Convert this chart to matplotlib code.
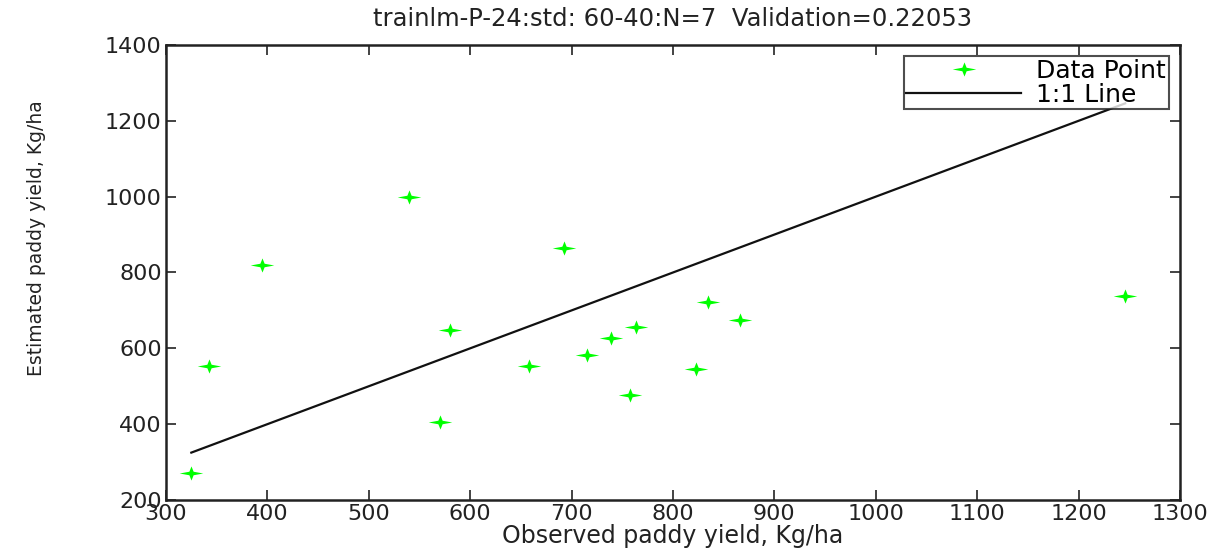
import matplotlib.pyplot as plt
import numpy as np
from matplotlib.path import Path

observed = [325, 342, 395, 540, 570, 580, 658, 693, 715, 739, 758, 764, 823, 835, 866, 1246]
estimated = [270, 553, 820, 1000, 406, 648, 553, 865, 583, 627, 477, 656, 545, 722, 675, 738]
x_ticks = [300, 400, 500, 600, 700, 800, 900, 1000, 1100, 1200, 1300]
y_ticks = [200, 400, 600, 800, 1000, 1200, 1400]

# wide four-point star, like the stretched matlab '*'
verts = [(1, 0), (0.18, 0.15), (0, 0.6), (-0.18, 0.15), (-1, 0),
         (-0.18, -0.15), (0, -0.6), (0.18, -0.15), (1, 0)]
codes = [Path.MOVETO] + [Path.LINETO] * 7 + [Path.CLOSEPOLY]
star = Path(verts, codes)

plt.rcParams['font.family'] = ['DejaVu Sans']

fig = plt.figure(figsize=(12.24, 5.5), dpi=100)
ax = fig.add_axes([0.1356, 0.0909, 0.8284, 0.8273])

ax.plot(observed, estimated, linestyle='none', marker=star, markersize=17,
        color='#00ff00', markeredgewidth=0, label='Data Point')
lo, hi = min(observed), max(observed)
ax.plot([lo, hi], [lo, hi], color='#111111', linewidth=1.6, label='1:1 Line')

ax.set_xlim(300, 1300)
ax.set_ylim(200, 1400)
ax.set_xticks(x_ticks)
ax.set_yticks(y_ticks)
ax.tick_params(direction='in', length=7, width=1.2, top=True, right=True,
               labelsize=16, pad=3, colors='#222222')
for s in ax.spines.values():
    s.set_linewidth(1.8)
    s.set_color('#222222')

ax.set_xlabel('Observed paddy yield, Kg/ha', fontsize=17, labelpad=0, color='#222222')
ax.set_ylabel('Estimated paddy yield, Kg/ha', fontsize=13.5, color='#222222')
ax.yaxis.set_label_coords(-0.118, 0.575)
ax.set_title('trainlm-P-24:std: 60-40:N=7  Validation=0.22053', fontsize=17.5,
             pad=14, color='#222222')

leg = ax.legend(loc='upper right', fontsize=18, frameon=True, fancybox=False,
                borderpad=0.1, handlelength=4.6, handletextpad=0.6,
                labelspacing=0.0, borderaxespad=0.45)
leg.get_frame().set_edgecolor('#222222')
leg.get_frame().set_linewidth(1.5)

fig.savefig('out.png', dpi=100)
